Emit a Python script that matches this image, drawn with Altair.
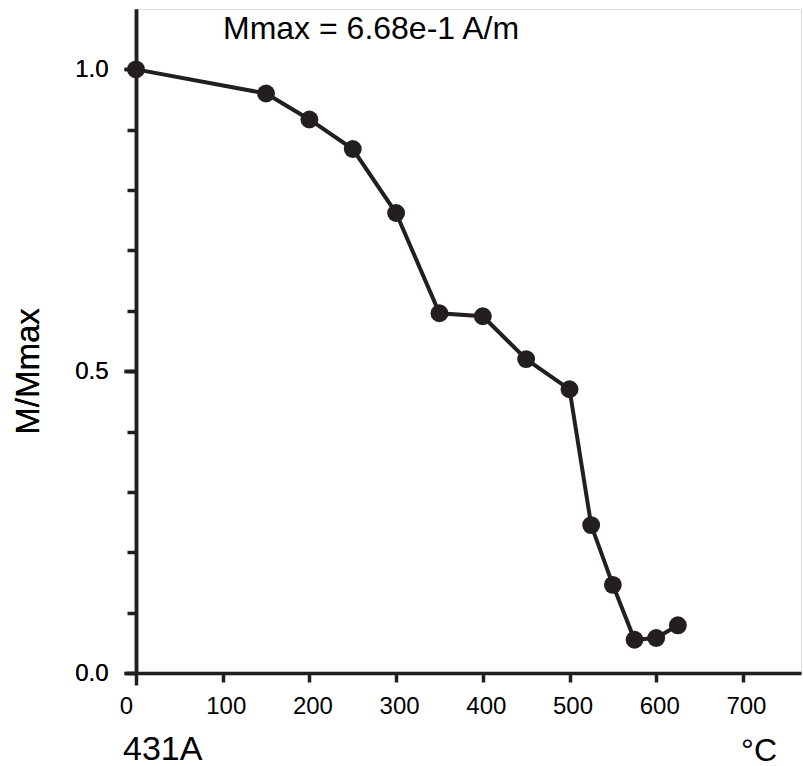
import altair as alt
import pandas as pd

# --- data ---
temps = [0, 150, 200, 250, 300, 350, 400, 450, 500, 525, 550, 575, 600, 625]
mnorm = [1.0, 0.960, 0.917, 0.868, 0.762, 0.596, 0.591, 0.520, 0.470, 0.245, 0.146, 0.055, 0.058, 0.079]
x_ticks = [0, 100, 200, 300, 400, 500, 600, 700]
y_major = [0.0, 0.5, 1.0]
y_minor = [0.0, 0.1, 0.2, 0.3, 0.4, 0.5, 0.6, 0.7, 0.8, 0.9, 1.0]
title_text = ["Mmax = 6.68e-1 A/m"]
sample_text = ["431A"]
unit_text = ["°C"]

df = pd.DataFrame({"T": temps, "M": mnorm})

INK = "#231f20"
FONT = "Liberation Sans"

xscale = alt.Scale(domain=[0, 767], nice=False, zero=False)
yscale = alt.Scale(domain=[0, 1.1], nice=False, zero=False)

x_enc = alt.X(
    "T:Q",
    scale=xscale,
    axis=alt.Axis(
        values=x_ticks, format="d", grid=False,
        tickSize={"condition": {"test": "datum.value == 0", "value": 12}, "value": 9},
        tickWidth=3.5, tickColor=INK,
        domainColor=INK, domainWidth=3.5,
        labelFlush=False,
        labelPadding={"condition": {"test": "datum.value == 0", "value": 9}, "value": 12},
        labelFontSize=24, labelFont=FONT, labelColor="black",
        labelOffset={"condition": {"test": "datum.value == 0", "value": -10}, "value": 3},
        title=None,
    ),
)

y_major_enc = alt.Y(
    "M:Q",
    scale=yscale,
    axis=alt.Axis(
        orient="left", values=y_major, format=".1f", grid=False,
        tickSize=12, tickWidth=3.5, tickColor=INK,
        domainColor=INK, domainWidth=3.5,
        labelPadding=16, labelFontSize=24, labelFont=FONT, labelColor="black",
        title="M/Mmax", titleX=-108, titleY=362, titleAngle=270,
        titleAlign="center", titleBaseline="middle",
        titleFontSize=33, titleFont=FONT, titleFontWeight="normal",
        titleColor="black",
    ),
)

y_minor_enc = alt.Y(
    "M:Q",
    scale=yscale,
    axis=alt.Axis(
        orient="left", values=y_minor, grid=False, labels=False,
        domain=False, tickSize=9, tickWidth=3.5, tickColor=INK, title=None,
    ),
)

minor = alt.Chart(df).mark_point(opacity=0).encode(x=x_enc, y=y_minor_enc)
line = alt.Chart(df).mark_line(color=INK, strokeWidth=4).encode(x=x_enc, y=y_major_enc)
pts = alt.Chart(df).mark_circle(size=320, color=INK, opacity=1).encode(x=x_enc, y=y_major_enc)

title = alt.Chart(pd.DataFrame({"t": title_text})).mark_text(
    align="left", baseline="alphabetic", fontSize=32, font=FONT, color="black"
).encode(x=alt.value(87), y=alt.value(30), text="t:N")

sample = alt.Chart(pd.DataFrame({"t": sample_text})).mark_text(
    align="left", baseline="alphabetic", fontSize=34, font=FONT, color="black"
).encode(x=alt.value(-13), y=alt.value(751), text="t:N")

unit = alt.Chart(pd.DataFrame({"t": unit_text})).mark_text(
    align="right", baseline="alphabetic", fontSize=32, font=FONT, color="black"
).encode(x=alt.value(641), y=alt.value(752), text="t:N")

chart = (
    alt.layer(minor, line, pts, title, sample, unit)
    .resolve_axis(y="independent")
    .properties(
        width=665, height=664,
        autosize=alt.AutoSizeParams(type="none"),
        padding={"left": 136, "top": 9, "right": 2, "bottom": 93},
    )
    .configure_view(stroke=None)
    .configure(background="white")
)

chart.save("out.html", embed_options={"renderer": "svg", "actions": False})
